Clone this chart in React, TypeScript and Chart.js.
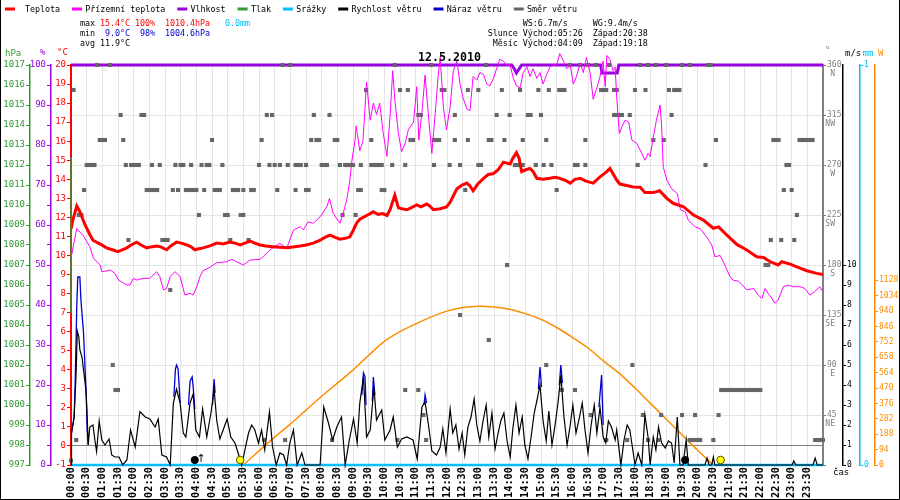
import React, { useEffect, useRef } from 'react';
import { Chart, registerables } from 'chart.js';

Chart.register(...registerables);

// ---------------- data (minutes since midnight, values) ----------------
const tempMin = [0,4,11,17,27,36,42,56,68,79,90,98,107,115,126,134,145,153,164,172,183,191,202,211,222,230,237,245,253,266,279,291,304,314,324,333,343,352,362,373,387,400,413,425,439,450,464,477,486,496,506,515,525,534,540,547,553,566,573,579,588,597,605,611,620,627,634,643,651,662,670,681,687,694,707,719,726,739,749,758,764,770,779,790,799,809,818,828,835,841,846,853,858,863,871,879,885,892,904,917,927,936,946,956,965,975,986,1000,1013,1026,1032,1045,1051,1077,1090,1099,1115,1127,1141,1153,1173,1192,1211,1230,1240,1256,1275,1294,1313,1326,1339,1354,1361,1377,1390,1409,1428,1440];
const tempVal = [11.4,11.9,12.6,12.3,11.6,11.1,10.8,10.6,10.4,10.3,10.2,10.3,10.4,10.55,10.7,10.55,10.4,10.45,10.5,10.45,10.3,10.5,10.7,10.65,10.55,10.45,10.3,10.35,10.4,10.5,10.65,10.6,10.7,10.65,10.55,10.65,10.75,10.65,10.55,10.5,10.46,10.43,10.4,10.45,10.5,10.55,10.65,10.8,10.95,11.07,10.95,10.85,10.9,10.98,11.3,11.7,11.9,12.1,12.2,12.3,12.15,12.2,12.1,12.4,13.17,12.5,12.45,12.4,12.5,12.65,12.55,12.7,12.6,12.4,12.45,12.55,12.8,13.5,13.7,13.8,13.65,13.4,13.75,14.05,14.25,14.3,14.5,14.9,14.85,14.8,15.1,15.4,15.1,14.4,14.5,14.57,14.4,14.05,14.0,14.05,14.1,14.05,13.95,13.8,14.0,14.05,13.9,13.8,14.13,14.4,14.57,13.96,13.75,13.6,13.58,13.3,13.3,13.4,13.0,12.74,12.56,12.12,11.86,11.43,11.5,11.07,10.58,10.29,9.93,9.9,9.67,9.5,9.67,9.55,9.4,9.2,9.06,9.0];

const groundMin = [0,11,24,36,43,56,59,71,75,84,91,107,113,119,126,138,151,164,170,177,183,190,199,209,218,228,234,241,247,253,266,279,298,308,317,330,343,362,368,381,400,413,426,439,445,454,464,477,490,495,502,515,521,528,534,538,544,546,553,559,566,573,579,585,591,598,605,611,616,620,627,633,640,646,656,662,666,672,678,684,691,697,703,707,713,719,726,732,739,745,751,758,764,770,777,783,790,796,802,809,815,821,828,834,841,847,853,860,866,873,879,885,892,898,904,911,917,924,930,936,943,949,956,962,968,975,981,987,994,1000,1007,1013,1019,1023,1026,1032,1038,1042,1045,1050,1055,1061,1068,1074,1083,1093,1099,1105,1109,1115,1121,1128,1131,1134,1141,1150,1161,1167,1176,1182,1195,1205,1217,1227,1233,1243,1252,1262,1268,1278,1284,1294,1307,1316,1323,1329,1335,1342,1348,1354,1364,1374,1383,1396,1405,1415,1424,1434,1440];
const groundVal = [9.85,11.42,11.02,10.46,9.85,9.5,9.15,9.2,9.24,9.06,8.71,8.45,8.45,8.8,8.71,8.8,8.8,9.15,8.89,8.19,8.27,8.89,9.15,8.89,7.92,8.01,7.92,8.36,8.89,9.2,9.38,9.62,9.67,9.8,9.67,9.5,9.76,9.8,9.94,10.29,10.64,10.37,11.34,11.51,11.34,11.77,11.69,12.03,12.56,13.0,12.21,11.69,12.2,12.91,13.96,15.0,16.06,16.8,15.5,16.0,19.1,17.1,18.0,17.4,18.0,16.4,15.2,17.3,19.7,18.2,16.4,15.45,15.9,16.6,17.0,18.86,16.06,17.5,19.47,17.5,15.36,17.3,19.4,20.4,17.8,16.6,17.8,19.7,20.2,19.0,18.25,17.7,17.6,19.4,19.2,19.6,19.5,19.0,18.9,19.3,19.8,20.3,20.2,20.0,20.0,19.3,18.9,18.8,19.6,19.9,19.4,19.8,19.3,19.6,19.0,19.5,19.9,20.0,20.0,20.6,20.2,19.8,20.0,19.0,19.4,20.1,19.6,20.4,19.6,18.2,18.8,19.4,20.2,18.86,20.5,20.3,19.7,19.9,18.3,16.4,16.76,17.1,17.0,16.06,15.9,15.36,15.0,15.36,15.2,16.2,17.1,17.9,16.8,14.66,13.96,13.5,13.26,12.4,12.3,11.86,11.5,11.4,10.98,10.55,9.93,10.0,9.5,8.88,8.7,8.65,8.5,8.19,8.27,7.92,7.75,8.27,8.0,7.75,7.49,7.66,8.36,8.45,8.36,8.36,8.27,7.92,8.1,8.36,8.1];

const humMin = [0, 844, 849, 853, 858, 863, 1014, 1017, 1046, 1049, 1440];
const humVal = [100, 100, 99, 98, 99, 100, 100, 98, 98, 100, 100];

const pressMin = [0, 0];
const pressVal = [1012.4, 1004.6];

const rainMin = [0, 1440];
const rainVal = [0, 0];

const windMin = [0,1,6,10,12,15,17,21,24,27,29,31,33,36,42,46,49,54,59,65,73,78,84,92,99,107,114,123,132,142,151,161,167,174,183,190,196,202,209,215,220,228,234,239,246,252,260,268,274,279,285,292,299,306,314,320,327,333,340,346,352,359,365,371,380,386,393,400,407,413,419,426,433,442,448,477,484,493,501,509,518,525,533,541,548,553,560,566,573,580,585,595,601,611,617,625,633,643,655,663,672,678,684,691,700,707,712,718,726,731,737,743,749,754,760,766,772,777,783,789,795,800,806,812,818,823,829,835,841,846,852,858,864,869,875,881,887,892,898,904,910,915,921,927,933,938,944,950,956,961,967,973,979,984,990,996,1002,1007,1013,1019,1024,1029,1035,1042,1045,1053,1059,1065,1070,1075,1080,1086,1093,1099,1105,1109,1115,1120,1125,1131,1138,1144,1150,1155,1161,1166,1172,1178,1182,1214,1218,1222,1227,1230,1233,1381,1384,1388,1421,1425,1429,1440];
const windVal = [0,1.6,2.4,4.75,6.7,6.4,5.75,5.4,4.75,4.1,3.6,2.4,1.0,1.9,2.0,1.2,0.67,2.2,1.25,1.0,1.3,0.5,0.4,0.4,0,0.25,1.75,0.9,2.67,2.4,2.3,1.9,2.3,0.5,0.4,0,3.1,3.8,3.1,1.6,1.4,3.1,3.55,1.75,1.4,2.8,1.4,2.6,3.8,2.25,1.3,1.8,2.3,1.4,1.1,0.6,0,0.75,1.6,2.0,1.75,1.1,1.75,0.75,2.65,0.9,0,0.6,0.5,0,1.1,1.75,0,0.6,0,0,2.9,2.1,1.25,1.9,2.4,0,1.25,2.3,1.1,3.1,4.4,1.4,1.75,3.9,2.25,2.75,1.25,1.75,2.4,0.9,1.3,1.4,1.25,0.3,2.9,3.15,2.1,0.7,0.5,0.9,1.8,0.6,2.8,1.6,2.0,0.8,1.6,0.5,1.9,2.4,3.3,2.0,1.2,2.2,3.0,1.4,2.6,0.8,1.6,2.2,2.6,1.2,0.4,1.8,3.0,1.6,2.4,1.0,0.3,1.4,2.6,3.2,4.0,2.2,1.2,2.7,1.0,2.0,3.2,4.5,2.4,1.0,2.0,3.0,1.6,2.3,3.1,1.8,0.6,2.0,3.0,1.6,2.9,1.4,1.1,2.2,1.9,1.25,1.75,0,1.25,2.0,1.75,0.9,0,0.6,0,2.5,1.4,0,1.4,0.75,1.9,1.1,0.85,1.2,1.1,0.1,2.4,0,0,1.25,0,0,0.35,0,0,0.4,0,0,0.2,0,0,0.35,0,0];

const gustMin = [1,6,8,11,13,17,19,24,27,29,31,33,null,197,200,202,205,209,null,225,228,232,234,237,null,271,274,276,null,557,560,563,565,null,577,579,582,null,676,678,681,null,895,898,901,null,935,938,941,null,1011,1016,1019];
const gustVal = [1.6,2.4,4.1,7.9,9.4,9.4,8.25,6.6,4.75,3.6,1.75,1.0,null,3.4,4.8,5.0,4.8,3.1,null,3.0,4.2,4.4,3.9,2.8,null,3.0,4.3,3.6,null,3.5,4.6,4.4,3.0,null,3.2,4.4,3.5,null,3.0,3.5,3.1,null,3.8,4.9,3.9,null,4.0,5.0,4.1,null,2.9,4.5,2.0];

const solarMin = [330,360,390,420,450,480,510,540,570,600,630,660,690,720,750,780,810,840,870,900,930,960,990,1020,1050,1080,1110,1140,1170,1200,1230];
const solarVal = [0,86,170,250,335,420,500,580,670,755,815,862,905,940,962,970,966,952,925,890,840,780,715,635,560,470,375,280,185,90,0];

const dirLevels = [360, 337.5, 315, 292.5, 270, 247.5, 225, 202.5, 180, 157.5, 135, 112.5, 90, 67.5, 45, 22.5, 4];
const dirTimes = [
  [50,75,405,420,620,690,795,955,975,990,1005,1030,1090,1105,1120,1140,1170,1185,1220,1225],
  [5,565,630,645,710,715,760,780,825,860,895,915,935,940,945,1015,1020,1025,1040,1045,1080,1100,1145,1155,1160,1165],
  [95,135,140,375,385,465,495,665,670,735,815,840,875,880,900,1040,1045,1050,1055,1070,1150],
  [55,60,65,100,270,365,460,470,475,505,510,575,650,655,695,700,705,735,760,800,805,830,865,910,985,1115,1135,1235,1345,1350,1355,1395,1400,1405,1410,1415,1420],
  [30,35,40,45,105,115,120,125,130,155,170,200,210,215,230,250,260,265,290,360,380,390,400,415,430,435,440,450,480,485,490,515,525,530,535,540,555,575,580,585,590,595,615,640,695,725,745,780,785,850,855,860,865,890,905,920,965,970,985,1085,1215,1370,1375],
  [25,145,150,155,160,165,195,205,220,225,230,235,240,255,275,280,285,310,315,320,330,345,350,395,430,450,455,550,555,595,600,755,930,1365,1380],
  [15,20,245,295,300,325,330,520,545,1390],
  [110,175,180,185,305,340,1340,1360,1385],
  [835,1330,1335],
  [190],
  [745],
  [800],
  [80,910,1075],
  [85,90,640,665,940,965,1245,1250,1255,1260,1265,1270,1275,1280,1285,1290,1295,1300,1305,1310,1315,1320],
  [675,995,1095,1130,1170,1195,1240],
  [10,370,410,500,625,680,1025,1065,1105,1125,1185,1190,1195,1200,1205,1230,1425,1430,1435,1440],
  [0],
];

const moonMin = [237, 1176];
const sunMin = [324, 1244];
const markerLevel = 0.25;
const moonriseMin = 249;

const legendLabels = ['Teplota', 'Přízemní teplota', 'Vlhkost', 'Tlak', 'Srážky', 'Rychlost větru', 'Náraz větru', 'Směr větru'];
const statMax = ['15.4°C', '100%', '1010.4hPa', '0.0mm'];
const statMin = ['9.0°C', '98%', '1004.6hPa'];
const statAvg = '11.9°C';
const windStats = ['WS:6.7m/s', 'WG:9.4m/s'];
const sunTimes = ['Východ:05:26', 'Západ:20:38'];
const moonTimes = ['Východ:04:09', 'Západ:19:18'];
const dateTitle = '12.5.2010';
const dirTickValues = [360, 315, 270, 225, 180, 135, 90, 45];
const dirNames = ['N', 'NW', 'W', 'SW', 'S', 'SE', 'E', 'NE'];

// ---------------- styles ----------------
const RED = '#ff0000';
const MAG = '#ff00ff';
const PUR = '#9900dd';
const GRN = '#339933';
const CYA = '#00bfff';
const BLK = '#000000';
const BLU = '#0000cc';
const GRY = '#666666';
const ORA = '#ff8c00';
const AXG = '#808080';
const GRID = '#e4e4e4';
const MONO = '"DejaVu Sans Mono", monospace';
const CW = 5;
const SMALL = `8.4px ${MONO}`;

const pts = (mins: (number | null)[], vals: (number | null)[]) => {
  let last = 0;
  return mins.map((m, i) => {
    if (m === null || vals[i] === null) return { x: last, y: null };
    last = (m as number) / 60;
    return { x: last, y: vals[i] };
  });
};

const plain = (v: any) => String(v);

function mono(ctx: CanvasRenderingContext2D, text: string, x: number, y: number, color: string) {
  ctx.fillStyle = color;
  for (let i = 0; i < text.length; i++) ctx.fillText(text[i], x + i * CW, y);
  return x + text.length * CW;
}

const decor = {
  id: 'decor',
  afterDraw(chart: any) {
    const ctx: CanvasRenderingContext2D = chart.ctx;
    ctx.save();
    ctx.textBaseline = 'middle';
    ctx.textAlign = 'left';
    ctx.font = SMALL;

    // legend
    const legendColors = [RED, MAG, PUR, GRN, CYA, BLK, BLU, GRY];
    let x = 5;
    legendLabels.forEach((lab, i) => {
      ctx.strokeStyle = legendColors[i];
      ctx.lineWidth = 3;
      ctx.beginPath();
      ctx.moveTo(x, 9);
      ctx.lineTo(x + 10, 9);
      ctx.stroke();
      const tx = x + (i === 0 ? 20 : 13.3);
      mono(ctx, lab, tx, 9.5, BLK);
      x = tx + lab.length * CW + 12;
    });

    // stats
    let sx = 80;
    sx = mono(ctx, 'max ', sx, 24, BLK);
    sx = mono(ctx, statMax[0], sx, 24, RED);
    sx = mono(ctx, ' ', sx, 24, BLK);
    sx = mono(ctx, statMax[1], sx, 24, RED);
    sx = mono(ctx, '  ', sx, 24, BLK);
    sx = mono(ctx, statMax[2], sx, 24, RED);
    sx = mono(ctx, '   ', sx, 24, BLK);
    mono(ctx, statMax[3], sx, 24, CYA);
    sx = 80;
    sx = mono(ctx, 'min  ', sx, 34, BLK);
    sx = mono(ctx, statMin[0], sx, 34, BLU);
    sx = mono(ctx, '  ', sx, 34, BLK);
    sx = mono(ctx, statMin[1], sx, 34, BLU);
    sx = mono(ctx, '  ', sx, 34, BLK);
    mono(ctx, statMin[2], sx, 34, BLU);
    sx = mono(ctx, 'avg ', 80, 44, BLK);
    mono(ctx, statAvg, sx, 44, BLK);

    const rx = 487.7;
    mono(ctx, '       ' + windStats[0] + '     ' + windStats[1], rx, 24, BLK);
    mono(ctx, 'Slunce ' + sunTimes[0] + '  ' + sunTimes[1], rx, 34, BLK);
    mono(ctx, ' Měsíc ' + moonTimes[0] + '  ' + moonTimes[1], rx, 44, BLK);

    // title
    ctx.font = `bold 11.6px ${MONO}`;
    ctx.textAlign = 'center';
    ctx.fillStyle = BLK;
    ctx.fillText(dateTitle, 449.5, 57.5);

    // units
    ctx.textAlign = 'left';
    ctx.font = `9px ${MONO}`;
    ctx.fillStyle = GRN; ctx.fillText('hPa', 5, 54);
    ctx.fillStyle = PUR; ctx.fillText('%', 40, 53);
    ctx.fillStyle = RED; ctx.fillText('°C', 57, 53);
    ctx.fillStyle = AXG; ctx.fillText('°', 825, 51);
    ctx.fillStyle = BLK; ctx.fillText('m/s', 845, 54);
    ctx.fillStyle = CYA; ctx.fillText('mm', 862.5, 54);
    ctx.fillStyle = ORA; ctx.fillText('W', 878, 54);
    ctx.fillStyle = BLK; ctx.fillText('čas', 833, 473);

    // compass names under degree ticks
    const yD = chart.scales.yD;
    ctx.font = `8px ${MONO}`;
    ctx.textAlign = 'right';
    ctx.fillStyle = AXG;
    dirTickValues.forEach((v, i) => {
      ctx.fillText(dirNames[i], 835, yD.getPixelForValue(v) + 9);
    });

    // moonrise arrow
    const xs = chart.scales.x;
    ctx.font = `11px "DejaVu Sans", sans-serif`;
    ctx.textAlign = 'center';
    ctx.fillStyle = BLK;
    ctx.fillText('↑', xs.getPixelForValue(moonriseMin / 60), 459);

    // frame
    ctx.strokeStyle = BLK;
    ctx.lineWidth = 1;
    ctx.beginPath();
    ctx.moveTo(0.5, 0);
    ctx.lineTo(0.5, 499.5);
    ctx.lineTo(899.5, 499.5);
    ctx.lineTo(899.5, 0);
    ctx.stroke();
    ctx.restore();
  },
};

export default function App() {
  const ref = useRef<HTMLCanvasElement | null>(null);

  useEffect(() => {
    if (!ref.current) return;
    Chart.defaults.font.family = MONO;

    const dirPoints: { x: number; y: number }[] = [];
    dirLevels.forEach((lvl, i) => {
      dirTimes[i].forEach((m) => dirPoints.push({ x: m / 60, y: lvl }));
    });

    const axisFont = { family: MONO, size: 9 };
    const rightFont = { family: MONO, size: 8 };
    const fixW = (w: number) => (s: any) => { s.width = w; };

    const chart = new Chart(ref.current, {
      type: 'scatter',
      data: {
        datasets: [
          { label: 'markersMoon', data: moonMin.map((m) => ({ x: m / 60, y: markerLevel })), yAxisID: 'yW', pointStyle: 'circle', pointRadius: 3.6, backgroundColor: BLK, borderColor: BLK, borderWidth: 1, order: 0, clip: false } as any,
          { label: 'markersSun', data: sunMin.map((m) => ({ x: m / 60, y: markerLevel })), yAxisID: 'yW', pointStyle: 'circle', pointRadius: 3.8, backgroundColor: '#ffff00', borderColor: '#555500', borderWidth: 1, order: 0, clip: false } as any,
          { label: 'Tlak', data: pts(pressMin, pressVal), yAxisID: 'yP', showLine: true, borderColor: GRN, borderWidth: 1.5, pointRadius: 0, order: 1, clip: false } as any,
          { label: 'Teplota', data: pts(tempMin, tempVal), yAxisID: 'yT', showLine: true, borderColor: RED, borderWidth: 3, pointRadius: 0, tension: 0, order: 2 } as any,
          { label: 'Přízemní teplota', data: pts(groundMin, groundVal), yAxisID: 'yT', showLine: true, borderColor: MAG, borderWidth: 1, pointRadius: 0, tension: 0, order: 3, clip: false } as any,
          { label: 'Rychlost větru', data: pts(windMin, windVal), yAxisID: 'yW', showLine: true, borderColor: BLK, borderWidth: 1.2, pointRadius: 0, tension: 0, order: 4, clip: false } as any,
          { label: 'Náraz větru', data: pts(gustMin, gustVal), yAxisID: 'yW', showLine: true, spanGaps: false, borderColor: BLU, borderWidth: 1.3, pointRadius: 0, tension: 0, order: 5 } as any,
          { label: 'Srážky', data: pts(rainMin, rainVal), yAxisID: 'yR', showLine: true, borderColor: CYA, borderWidth: 2.5, pointRadius: 0, order: 6, clip: false } as any,
          { label: 'Směr větru', data: dirPoints, yAxisID: 'yD', showLine: false, pointStyle: 'rect', pointRadius: 2.9, backgroundColor: GRY, borderWidth: 0, order: 7, clip: false } as any,
          { label: 'Vlhkost', data: pts(humMin, humVal), yAxisID: 'yH', showLine: true, borderColor: PUR, borderWidth: 3, pointRadius: 0, tension: 0, order: 8, clip: false } as any,
          { label: 'Solar', data: pts(solarMin, solarVal), yAxisID: 'yS', showLine: true, borderColor: ORA, borderWidth: 1.5, pointRadius: 0, tension: 0.3, order: 9 } as any,
        ],
      },
      options: {
        responsive: false,
        animation: false,
        events: [],
        layout: { padding: { top: 65, right: 1, bottom: 0, left: 0 } },
        plugins: { legend: { display: false }, tooltip: { enabled: false }, title: { display: false } },
        scales: {
          x: {
            type: 'linear', position: 'bottom', min: 0, max: 24,
            afterFit: (s: any) => { s.height = 35; },
            ticks: {
              stepSize: 0.5, autoSkip: false, minRotation: 90, maxRotation: 90, padding: 2, color: BLK,
              font: { family: MONO, size: 10.3, weight: 'bold' },
              callback: (value: any) => {
                const v = Number(value);
                if (v >= 24) return '';
                const h = Math.floor(v);
                const m = Math.round((v - h) * 60);
                return `${String(h).padStart(2, '0')}:${String(m).padStart(2, '0')}`;
              },
            },
            grid: { color: GRID, drawTicks: false },
            border: { color: BLK, width: 1 },
          },
          yT: {
            position: 'left', min: -1, max: 20, afterFit: fixW(20),
            ticks: { stepSize: 1, autoSkip: false, color: RED, font: axisFont, padding: 1, callback: plain },
            grid: { color: (c: any) => (c.tick && c.tick.value === 0 ? '#808080' : 'rgba(0,0,0,0)'), tickColor: RED, tickLength: 4 },
            border: { color: RED, width: 2 },
          },
          yH: {
            position: 'left', min: 0, max: 100, afterFit: fixW(21),
            ticks: { stepSize: 5, autoSkip: false, color: PUR, font: axisFont, padding: 1, callback: (v: any) => (Number(v) % 10 === 0 ? String(v) : '') },
            grid: { drawOnChartArea: false, tickColor: PUR, tickLength: 4 },
            border: { color: PUR, width: 1.5 },
          },
          yP: {
            position: 'left', min: 997, max: 1017, afterFit: fixW(30),
            ticks: { stepSize: 1, autoSkip: false, color: GRN, font: axisFont, padding: 1, callback: plain },
            grid: { drawOnChartArea: false, tickColor: GRN, tickLength: 4 },
            border: { color: GRN, width: 1.5 },
          },
          yD: {
            position: 'right', min: 0, max: 360, afterFit: fixW(20),
            ticks: { stepSize: 45, autoSkip: false, color: AXG, font: rightFont, padding: 1, callback: (v: any) => (Number(v) === 0 ? '' : String(v)) },
            grid: { color: GRID, tickColor: AXG, tickLength: 3 },
            border: { color: AXG, width: 2 },
          },
          yW: {
            position: 'right', min: 0, max: 20, afterFit: fixW(17),
            afterBuildTicks: (s: any) => { s.ticks = s.ticks.filter((t: any) => t.value <= 10); },
            ticks: { stepSize: 1, autoSkip: false, color: BLK, font: rightFont, padding: 1, callback: plain },
            grid: { drawOnChartArea: false, tickColor: BLK, tickLength: 3 },
            border: { color: BLK, width: 1.5 },
          },
          yR: {
            position: 'right', min: 0, max: 1, afterFit: fixW(15),
            ticks: { stepSize: 1, autoSkip: false, color: CYA, font: rightFont, padding: 1, callback: plain },
            grid: { drawOnChartArea: false, tickColor: CYA, tickLength: 3 },
            border: { color: CYA, width: 1.5 },
          },
          yS: {
            position: 'right', min: 0, max: 2444, afterFit: fixW(24),
            afterBuildTicks: (s: any) => { s.ticks = s.ticks.filter((t: any) => t.value <= 1128); },
            ticks: { stepSize: 94, autoSkip: false, color: ORA, font: rightFont, padding: 1, callback: plain },
            grid: { drawOnChartArea: false, tickColor: ORA, tickLength: 3 },
            border: { color: ORA, width: 1.5 },
          },
        },
      } as any,
      plugins: [decor],
    });

    return () => chart.destroy();
  }, []);

  return (
    <div style={{ position: 'absolute', left: 0, top: 0, width: 900, height: 500, background: '#fff' }}>
      <canvas ref={ref} width={900} height={500} style={{ display: 'block' }} />
    </div>
  );
}
